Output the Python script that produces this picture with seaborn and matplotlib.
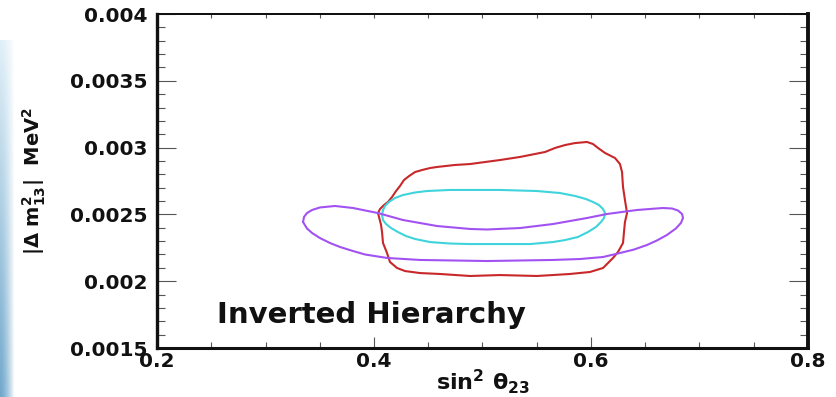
import numpy as np
import pandas as pd
import matplotlib
matplotlib.use("Agg")
import matplotlib.pyplot as plt
from matplotlib.ticker import FixedLocator, FixedFormatter, MultipleLocator
import seaborn as sns

# Allowed-region contours in the (sin^2 theta23, |dm^2_13|) plane
red_x = [0.4885, 0.5161, 0.5346, 0.5576, 0.5668, 0.5760, 0.5853, 0.5963, 0.6018, 0.6065,
         0.6129, 0.6221, 0.6267, 0.6286, 0.6295, 0.6313, 0.6332, 0.6313, 0.6304, 0.6295,
         0.6249, 0.6203, 0.6111, 0.5991, 0.5806, 0.5502, 0.5161, 0.4885, 0.4608, 0.4424,
         0.4286, 0.4212, 0.4147, 0.4120, 0.4083, 0.4074, 0.4065, 0.4037, 0.4055, 0.4092,
         0.4129, 0.4166, 0.4203, 0.4240, 0.4276, 0.4323, 0.4378, 0.4442, 0.4516, 0.4581,
         0.4747]
red_y = [0.002877, 0.002907, 0.002930, 0.002967, 0.002997, 0.003019, 0.003034, 0.003042, 0.003027, 0.002997,
         0.002960, 0.002922, 0.002877, 0.002817, 0.002705, 0.002608, 0.002510, 0.002443, 0.002368, 0.002286,
         0.002219, 0.002174, 0.002099, 0.002069, 0.002054, 0.002039, 0.002046, 0.002039, 0.002054, 0.002061,
         0.002076, 0.002099, 0.002144, 0.002211, 0.002286, 0.002368, 0.002421, 0.002510, 0.002540, 0.002570,
         0.002593, 0.002630, 0.002675, 0.002713, 0.002757, 0.002787, 0.002817, 0.002832, 0.002847, 0.002855,
         0.002870]

cyan_x = [0.4074, 0.4083, 0.4101, 0.4138, 0.4194, 0.4267, 0.4378, 0.4488, 0.4700, 0.5161,
          0.5502, 0.5714, 0.5853, 0.5954, 0.6018, 0.6074, 0.6111, 0.6129, 0.6120, 0.6092,
          0.6046, 0.5972, 0.5880, 0.5760, 0.5650, 0.5438, 0.5189, 0.4885, 0.4700, 0.4516,
          0.4378, 0.4295, 0.4221, 0.4157, 0.4111, 0.4083]
cyan_y = [0.002496, 0.002533, 0.002563, 0.002593, 0.002623, 0.002645, 0.002664, 0.002675, 0.002683, 0.002683,
          0.002675, 0.002660, 0.002638, 0.002615, 0.002593, 0.002570, 0.002540, 0.002510, 0.002473, 0.002443,
          0.002406, 0.002368, 0.002331, 0.002308, 0.002293, 0.002278, 0.002278, 0.002278, 0.002282, 0.002293,
          0.002316, 0.002338, 0.002368, 0.002398, 0.002428, 0.002458]

purple_x = [0.3346, 0.3355, 0.3382, 0.3429, 0.3502, 0.3641, 0.3806, 0.4037, 0.4267, 0.4581,
            0.4885, 0.5041, 0.5346, 0.5650, 0.5963, 0.6147, 0.6424, 0.6664, 0.6747, 0.6802,
            0.6839, 0.6848, 0.6829, 0.6783, 0.6700, 0.6608, 0.6516, 0.6396, 0.6267, 0.6111,
            0.5899, 0.5650, 0.5041, 0.4424, 0.4120, 0.3917, 0.3806, 0.3687, 0.3594, 0.3502,
            0.3429, 0.3382]
purple_y = [0.002443, 0.002481, 0.002510, 0.002533, 0.002552, 0.002563, 0.002548, 0.002510, 0.002458, 0.002413,
            0.002391, 0.002387, 0.002398, 0.002428, 0.002473, 0.002503, 0.002533, 0.002548, 0.002544, 0.002529,
            0.002503, 0.002473, 0.002436, 0.002395, 0.002346, 0.002305, 0.002271, 0.002237, 0.002211, 0.002181,
            0.002166, 0.002159, 0.002151, 0.002159, 0.002174, 0.002200, 0.002226, 0.002256, 0.002286, 0.002323,
            0.002361, 0.002395]

x_ticks = [0.2, 0.4, 0.6, 0.8]
x_tick_labels = ["0.2", "0.4", "0.6", "0.8"]
y_ticks = [0.0015, 0.002, 0.0025, 0.003, 0.0035, 0.004]
y_tick_labels = ["0.0015", "0.002", "0.0025", "0.003", "0.0035", "0.004"]

contours = {"red": (red_x, red_y), "cyan": (cyan_x, cyan_y), "purple": (purple_x, purple_y)}
colors = {"red": "#c8282a", "cyan": "#3fd3dc", "purple": "#a352f2"}

frames = []
for name, (xs, ys) in contours.items():
    xs = list(xs) + [xs[0]]
    ys = list(ys) + [ys[0]]
    frames.append(pd.DataFrame({"x": xs, "y": ys, "contour": name}))
df = pd.concat(frames, ignore_index=True)

sns.set_style("ticks")
plt.rcParams["font.family"] = ["DejaVu Sans"]
plt.rcParams["font.weight"] = "bold"
plt.rcParams["mathtext.fontset"] = "dejavusans"
plt.rcParams["mathtext.default"] = "bf"

W, H = 837, 397
fig = plt.figure(figsize=(W / 100, H / 100), dpi=100)
fig.patch.set_facecolor("white")

# Decorative blue edge strip on the left
strip = fig.add_axes([0, 0, 15 / W, 357 / H])
strip.axis("off")
top_c = np.array([0.88, 0.94, 0.97])
bot_c = np.array([0.45, 0.66, 0.80])
t = np.linspace(0, 1, 100)[:, None, None]
grad = top_c * (1 - t) + bot_c * t
fade = np.linspace(0, 1, 15)[None, :, None] ** 1.5
img = grad * (1 - fade) + np.ones(3) * fade
strip.imshow(img, aspect="auto", interpolation="bilinear")

ax = fig.add_axes([157 / W, (H - 348) / H, 651 / W, 334 / H])
for name, group in df.groupby("contour", sort=False):
    sns.lineplot(data=group, x="x", y="y", estimator=None, sort=False,
                 color=colors[name], linewidth=1.5, ax=ax)
for line in ax.lines:
    line.set_solid_joinstyle("round")
    line.set_antialiased(True)

ax.set_xlim(0.2, 0.8)
ax.set_ylim(0.0015, 0.004)

ax.xaxis.set_major_locator(FixedLocator(x_ticks))
ax.xaxis.set_major_formatter(FixedFormatter(x_tick_labels))
ax.xaxis.set_minor_locator(MultipleLocator(0.05))
ax.yaxis.set_major_locator(FixedLocator(y_ticks))
ax.yaxis.set_major_formatter(FixedFormatter(y_tick_labels))
ax.yaxis.set_minor_locator(MultipleLocator(0.0001))

ax.tick_params(axis="both", which="both", direction="in", color="#555555", width=0.8,
               labelsize=14.5, labelcolor="#111111")
ax.tick_params(axis="y", which="major", length=14, left=True, right=True, pad=7)
ax.tick_params(axis="y", which="minor", length=6, left=True, right=True)
ax.tick_params(axis="x", which="major", length=8, bottom=True, top=False, pad=3)
ax.tick_params(axis="x", which="minor", length=4, bottom=True, top=False)

top = ax.secondary_xaxis("top")
top.xaxis.set_major_locator(MultipleLocator(0.05))
top.tick_params(direction="in", length=3, color="#555555", width=0.8, labeltop=False)
top.spines["top"].set_linewidth(1.4)

for side, lw in {"left": 2.4, "bottom": 2.2, "right": 2.8, "top": 1.4}.items():
    ax.spines[side].set_visible(True)
    ax.spines[side].set_linewidth(lw)
    ax.spines[side].set_color("#111111")

ax.set_xlabel(r"$\mathbf{sin^{2}}\ \theta_{23}$", fontsize=16, labelpad=-3, color="#111111")
ax.set_ylabel(r"$|\Delta\ m^{2}_{13}|\ \ \mathbf{MeV^{2}}$", fontsize=14, labelpad=16, color="#111111")

ax.text(0.3977, 0.00169, "Inverted Hierarchy", ha="center", va="baseline",
        fontsize=21, fontweight="bold", color="#111111")

fig.savefig("out.png", dpi=100, facecolor="white")
